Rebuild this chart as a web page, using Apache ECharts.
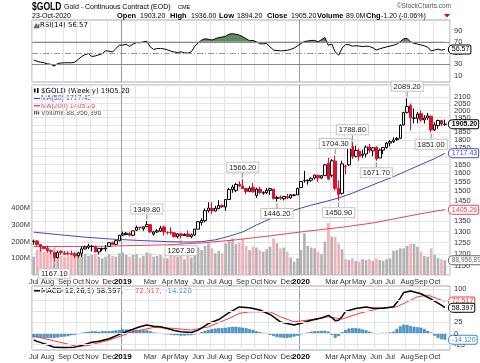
<!DOCTYPE html>
<html><head><meta charset="utf-8">
<script src="https://cdn.jsdelivr.net/npm/echarts@6/dist/echarts.min.js"></script>
<style>html,body{margin:0;padding:0;background:#fff;}#c{width:480px;height:363px;}</style>
</head><body><div id="c"></div>
<script>
// ---------- DATA ----------
const dates = [
'2018-07-06','2018-07-13','2018-07-20','2018-07-27','2018-08-03','2018-08-10','2018-08-17','2018-08-24','2018-08-31',
'2018-09-07','2018-09-14','2018-09-21','2018-09-28','2018-10-05','2018-10-12','2018-10-19','2018-10-26',
'2018-11-02','2018-11-09','2018-11-16','2018-11-23','2018-11-30','2018-12-07','2018-12-14','2018-12-21','2018-12-28',
'2019-01-04','2019-01-11','2019-01-18','2019-01-25','2019-02-01','2019-02-08','2019-02-15','2019-02-22',
'2019-03-01','2019-03-08','2019-03-15','2019-03-22','2019-03-29','2019-04-05','2019-04-12','2019-04-19','2019-04-26',
'2019-05-03','2019-05-10','2019-05-17','2019-05-24','2019-05-31','2019-06-07','2019-06-14','2019-06-21','2019-06-28',
'2019-07-05','2019-07-12','2019-07-19','2019-07-26','2019-08-02','2019-08-09','2019-08-16','2019-08-23','2019-08-30',
'2019-09-06','2019-09-13','2019-09-20','2019-09-27','2019-10-04','2019-10-11','2019-10-18','2019-10-25',
'2019-11-01','2019-11-08','2019-11-15','2019-11-22','2019-11-29','2019-12-06','2019-12-13','2019-12-20','2019-12-27',
'2020-01-03','2020-01-10','2020-01-17','2020-01-24','2020-01-31','2020-02-07','2020-02-14','2020-02-21','2020-02-28',
'2020-03-06','2020-03-13','2020-03-20','2020-03-27','2020-04-03','2020-04-10','2020-04-17','2020-04-24',
'2020-05-01','2020-05-08','2020-05-15','2020-05-22','2020-05-29','2020-06-05','2020-06-12','2020-06-19','2020-06-26',
'2020-07-03','2020-07-10','2020-07-17','2020-07-24','2020-07-31','2020-08-07','2020-08-14','2020-08-21','2020-08-28',
'2020-09-04','2020-09-11','2020-09-18','2020-09-25','2020-10-02','2020-10-09','2020-10-16','2020-10-23','2020-10-30'];

const opens = [1254,1257,1241,1231,1224,1214,1206,1184,1212,1203,1202,1202,1201,1193,1203,1222,1229,1232,1232,1209,1222,1222,1233,1249,1242,1258,
1284,1286,1291,1283,1306,1319,1313,1323,1332,1288,1298,1302,1321,1295,1297,1294,1276,1289,1281,1288,1277,1284,1311,1342,1351,1400,
1412,1398,1410,1426,1419,1457,1510,1505,1538,1529,1515,1500,1522,1478,1512,1490,1493,1505,1511,1462,1470,1461,1472,1465,1478,1481,
1520,1559,1557,1560,1573,1588,1573,1586,1658,1588,1670,1517,1489,1640,1648,1761,1699,1731,1705,1713,1756,1732,1755,1689,1737,1753,
1781,1791,1803,1812,1900,1987,2035,1946,1945,1978,1934,1948,1960,1866,1895,1930,1903.2];
const highs = [1263,1261,1243,1236,1236,1220,1207,1214,1216,1213,1212,1215,1209,1209,1233,1236,1245,1239,1236,1226,1228,1239,1252,1254,1262,1284,
1300,1298,1297,1304,1327,1322,1323,1349.8,1335,1303,1311,1326,1328,1301,1320,1295,1292,1294,1292,1304,1290,1312,1348,1362,1411,1443,
1443,1425,1453,1432,1457,1519,1535,1546,1555,1566.2,1518,1527,1545,1519,1524,1500,1518,1519,1513,1476,1478,1476,1487,1486,1485,1520,
1556,1613,1564,1576,1591,1591,1586,1653,1691,1682,1704.3,1560,1672,1650,1753,1788.8,1765,1747,1740,1766,1775,1757,1760,1746,1757,1789,
1800,1818,1820,1904,1990,2089.2,2050,2015,1990,2000,1966,1983,1964,1918,1936,1933,1936];
const lows = [1240,1236,1211,1221,1206,1200,1167.1,1183,1196,1196,1196,1195,1182,1185,1187,1219,1221,1211,1207,1198,1212,1211,1232,1239,1238,1256,
1279,1283,1277,1278,1302,1306,1302,1320,1293,1281,1293,1298,1281,1286,1285,1273,1268,1267.3,1280,1275,1269,1280,1310,1328,1343,1391,
1384,1397,1407,1413,1400,1457,1492,1496,1522,1512,1484,1495,1494,1465,1485,1482,1485,1481,1456,1446.2,1455,1452,1459,1461,1474,1480,
1519,1547,1536,1552,1565,1551,1566,1586,1562,1576,1504,1450.9,1482,1592,1642,1683,1692,1673,1688,1692,1720,1700,1671.7,1688,1712,1745,
1760,1782,1795,1806,1895,1978,1863,1911,1910,1921,1910,1935,1851,1859,1874,1891,1894.2];
const closes = [1256,1241,1231,1223,1214,1211,1184,1206,1206,1199,1201,1199,1192,1205,1222,1230,1235,1233,1209,1223,1223,1226,1249,1242,1258,1283,
1289,1292,1283,1303,1319,1318,1322,1332,1298,1298,1303,1316,1298,1295,1295,1276,1289,1281,1287,1277,1285,1311,1346,1352,1400,1413,
1400,1412,1426,1419,1457,1509,1523,1537,1529,1515,1499,1516,1497,1512,1494,1494,1505,1514,1462,1468,1463,1472,1465,1481,1481,1515,
1553,1560,1560,1571,1589,1573,1586,1648,1566,1672,1516,1484,1654,1637,1752,1698,1735,1700,1713,1756,1735,1751,1683,1737,1753,1780,
1790,1801,1810,1897,1986,2028,1949,1947,1975,1934,1947,1962,1866,1900,1930,1906,1905.2];
const volumesM = [110,150,160,140,135,130,165,125,115,110,120,125,120,
130,150,125,115,120,125,110,100,110,125,115,110,130,
135,120,110,120,125,105,115,135,130,110,115,120,105,
100,115,120,110,115,95,120,105,125,165,150,175,190,
160,130,145,130,190,210,220,185,195,215,175,150,170,
165,150,140,155,170,220,190,160,165,140,105,80,100,
150,250,175,165,160,140,125,200,312,230,228,190,155,
95,90,100,85,80,95,90,95,85,100,90,85,95,
100,146,150,160,160,175,186,186,170,140,114,110,160,120,102,94,88.957];
const rsi14 = [37.5,35.5,34,33,31,30,27,31.5,32.5,32.8,33,32.8,34,38.8,44,47.5,49,44,45,47,
49,54,53.5,52,58.5,64,64.2,65.5,62,66,68.6,68.3,70,71.2,61.2,56.5,58,58.3,57.5,55.8,
53.5,52,51,52.3,50.5,50,52.3,62,68,73,75.5,74.5,73.2,75.5,77.5,78.5,80,83.5,84.5,83.5,
82,79,75.5,72,72.5,70,66.5,66.5,67,61,55.5,54.5,54.1,54.3,55,56.5,59,63,67,70.5,
71.5,72.5,72.5,70,74,77.5,64,66,52,46.5,59,65,65,62.5,63,62.5,61.5,62.3,61.8,59.5,
55.5,57.5,59.5,61,62.5,64,66,70.5,75.5,76,69.5,67.5,66,64.5,63,60.5,54,55.5,57,55.3,56.57];
const ma50Dates = ['2018-07-06','2018-08-24','2018-10-19','2018-12-14','2019-02-08','2019-04-05','2019-05-17','2019-06-14','2019-07-12',
'2019-08-09','2019-09-06','2019-10-04','2019-11-01','2019-11-29','2019-12-27','2020-01-24','2020-02-21','2020-03-20','2020-04-17',
'2020-05-15','2020-06-12','2020-07-10','2020-08-07','2020-09-04','2020-10-02','2020-10-23'];
const ma50Vals = [1297,1286,1274,1265,1259,1254,1252,1254,1262,1278,1298,1330,1360,1385,1408,1428,1445,1465,1490,1520,1550,1580,1615,1650,1685,1717.43];
const ma200Dates = ['2018-07-06','2018-11-16','2019-04-05','2019-06-14','2019-08-23','2019-11-01','2020-01-10','2020-03-20','2020-05-29',
'2020-07-03','2020-08-07','2020-09-04','2020-10-23'];
const ma200Vals = [1232,1233,1240,1248,1262,1280,1300,1318,1340,1356,1372,1385,1405.26];
const macdDates = ['2018-07-06','2018-07-13','2018-07-27','2018-08-10','2018-08-17','2018-09-07','2018-09-28','2018-10-12','2018-11-02',
'2018-11-16','2018-12-07','2018-12-28','2019-01-18','2019-02-08','2019-02-22','2019-03-08','2019-03-22','2019-04-05','2019-04-19',
'2019-05-03','2019-05-24','2019-06-07','2019-06-28','2019-07-19','2019-08-09','2019-08-30','2019-09-20','2019-10-11','2019-11-01',
'2019-11-22','2019-12-20','2020-01-03','2020-01-24','2020-02-14','2020-02-28','2020-03-06','2020-03-13','2020-03-20','2020-03-27',
'2020-04-03','2020-04-24','2020-05-15','2020-05-29','2020-06-19','2020-07-10','2020-07-24','2020-07-31','2020-08-14','2020-09-04',
'2020-09-25','2020-10-16','2020-10-23'];
const macdVals = [-15,-18,-23,-28.5,-31.5,-32,-31,-27,-20,-17.5,-12,-2,7,15,19,16.5,15,11,6.5,3.6,2.3,7.5,22.5,31.5,47,60,58,53,43,
26,19,23,30,35,41,36,29,30,38,50,56.5,60,57,57,60.5,80,93,96,90,78,64,58.397];
const signalDates = ['2018-07-06','2018-07-27','2018-08-31','2018-10-05','2018-10-26','2018-12-07','2019-01-25','2019-03-08','2019-04-19',
'2019-05-24','2019-06-28','2019-08-09','2019-08-30','2019-09-20','2019-11-01','2019-11-22','2019-12-20','2020-01-17','2020-02-28',
'2020-03-27','2020-05-01','2020-06-12','2020-07-17','2020-08-28','2020-09-18','2020-10-23'];
const signalVals = [-6,-11.5,-20.5,-30,-27,-15,3.6,13.6,11.4,7.5,15,34,45.5,49,49,37.7,26.4,30.2,37.7,32.5,45.5,56.8,60.5,83,87,72.517];
const macdHist = [-9,-9,-10,-10,-10,-10,-10, -9,-8,-7,-6,-4,-3, -1,1,3, 4,5,5,4,5,5,5,6, 7,8,9,9,9,9, 8,8,7,7,5, 2,1,0,-1,
-2,-3,-4,-4,-5,-5,-4,-4, -2,0,3, 6,8,10,11,12,12,13, 14,15,15,14, 13,12,10,8,5, 3,1,0, -3,-6,-8,-9,-10,-10, -9,-7,-5,
-2,0,2,4,5,5,6,6, 4,-3,-10,-6, 3,8,11,12,12,11, 9,7,4,1,-1, 0,1,1,2, 4,10,16,20,19, 17,15,14,13,10,6,2, -5,-10,-13,-14.12];
const priceTicks = [1150,1200,1250,1300,1350,1400,1450,1500,1550,1600,1650,1700,1750,1800,1850,1900,1950,2000,2050,2100];
const rsiTicks = [10,30,50,70,90];
const macdTicks = [-25,0,25,50,75,100];
const volTicks = [100,200,300,400];
const annDates = ['2018-08-17','2019-02-22','2019-05-03','2019-09-06','2019-11-15','2020-03-13','2020-03-20','2020-04-17','2020-06-05','2020-08-07','2020-09-25'];
const annVals = [1167.10,1349.80,1267.30,1566.20,1446.20,1704.30,1450.90,1788.80,1671.70,2089.20,1851.00];
const annSide = ['bottom','top','bottom','top','bottom','top','bottom','top','bottom','top','bottom'];
const MON = ['Jan','Feb','Mar','Apr','May','Jun','Jul','Aug','Sep','Oct','Nov','Dec'];

// ---------- BUILD ----------
const N = closes.length;
const last = N - 1;
const monthStart = dates.map((d, i) => i === 0 || d.slice(5,7) !== dates[i-1].slice(5,7));
const FONT = '"Liberation Sans", Arial, sans-serif';
const VF = '"DejaVu Sans", Verdana, sans-serif';
const TICKFONT = '7.5px "Liberation Sans", Arial';
const L = 32, W = 418;
const gridCols = [];
for (let i = 0; i < 12; i++) gridCols.push(i === 6 ? '#9a9a9a' : '#e3e3e3');

function xAxisFor(gi, showLabel) {
  return {
    type: 'category', gridIndex: gi, data: dates, boundaryGap: true,
    axisLine: {show: false}, axisTick: {show: false},
    splitLine: {show: true, interval: (i) => !!monthStart[i], lineStyle: {color: gridCols, width: 1}},
    axisLabel: {
      show: showLabel, margin: 3, fontSize: 7.5, color: '#333', fontFamily: FONT,
      interval: (i, v) => !!monthStart[i] && v.slice(5,7) !== '02',
      formatter: (v) => { const m = +v.slice(5,7); return m === 1 ? '{y|' + v.slice(0,4) + '}' : MON[m-1]; },
      rich: {y: {fontWeight: 'bold', color: '#000', fontSize: 8, fontFamily: FONT}}
    }
  };
}
function boxLabel(text, color, bold) {
  return {show: true, formatter: () => text, color: color, fontSize: 7, fontFamily: FONT,
    fontWeight: bold ? 'bold' : 'normal', backgroundColor: '#fff', borderColor: color, borderWidth: 1,
    borderRadius: [5,1,1,5], padding: [1,1,0,3], distance: 4};
}
function txt(x, y, text, font, fill, extra) {
  return {type: 'text', x: x, y: y, style: Object.assign({text: text, font: font, fill: fill, verticalAlign: 'middle'}, extra || {})};
}

const candleData = closes.map((c, i) => [opens[i], c, lows[i], highs[i]]);
const volData = volumesM.map((v, i) => ({value: v, itemStyle: {color: closes[i] >= opens[i] ? '#b2b2b2' : '#f2b0b8'}}));

const annPoints = annDates.map((d, i) => ({
  coord: [d, annVals[i]], symbol: 'rect', symbolSize: [1, 5],
  symbolOffset: [0, annSide[i] === 'top' ? -4 : 4], itemStyle: {color: '#888'},
  label: {show: true, position: annSide[i], distance: 1, formatter: annVals[i].toFixed(2), fontSize: 7.5,
    fontFamily: FONT, color: '#222', backgroundColor: '#fff', borderColor: '#c4c4c4', borderWidth: 1, padding: [1,2,0,2]}
}));

const LF = '"Liberation Sans", Arial';
const staticGraphic = [
  {type: 'text', x: 32, y: 7, scaleX: 0.78, style: {text: '$GOLD', font: 'bold 11px ' + LF, fill: '#000', verticalAlign: 'middle'}},
  txt(64, 7, 'Gold - Continuous Contract (EOD)', '7px ' + LF, '#000'),
  txt(178, 7.5, 'CME', '5.5px ' + LF, '#000'),
  txt(451, 6, '\u00A9StockCharts.com', '6.5px ' + LF, '#555', {align: 'right'}),
  txt(32, 16, '23-Oct-2020', '7px ' + LF, '#000'),
  txt(117, 16, 'Open', 'bold 7.5px ' + LF, '#000'),
  txt(140, 16, '1903.20', '7px ' + LF, '#000'),
  txt(170, 16, 'High', 'bold 7.5px ' + LF, '#000'),
  txt(191, 16, '1936.00', '7px ' + LF, '#000'),
  txt(219, 16, 'Low', 'bold 7.5px ' + LF, '#000'),
  txt(237, 16, '1894.20', '7px ' + LF, '#000'),
  txt(267, 16, 'Close', 'bold 7.5px ' + LF, '#000'),
  txt(291, 16, '1905.20', '7px ' + LF, '#000'),
  txt(317, 16, 'Volume', 'bold 7.5px ' + LF, '#000'),
  txt(346, 16, '89.0M', '7px ' + LF, '#000'),
  txt(366, 16, 'Chg', 'bold 7.5px ' + LF, '#000'),
  txt(381, 16, '-1.20 (-0.06%)', '7px ' + LF, '#000'),
  {type: 'polygon', shape: {points: [[444,14],[450,14],[447,17.5]]}, style: {fill: '#d00020'}},
  {type: 'polygon', shape: {points: [[34,28],[36,23.5],[37.5,26],[39,24],[39,28]]}, style: {fill: '#5e8c5e', stroke: '#333', lineWidth: 0.5}},
  txt(40, 25.5, 'RSI(14) 56.57', '7px ' + VF, '#000'),
  {type: 'rect', shape: {x: 34, y: 88.5, width: 1.5, height: 4}, style: {fill: '#000'}},
  {type: 'rect', shape: {x: 37, y: 88, width: 1.5, height: 5}, style: {fill: '#000'}},
  txt(41, 90.8, '$GOLD (Weekly) 1905.20', '7px ' + VF, '#000'),
  {type: 'line', shape: {x1: 34, y1: 98.3, x2: 40, y2: 98.3}, style: {stroke: '#4848b8', lineWidth: 1.5}},
  txt(41, 98.3, 'MA(50) 1717.43', '7px ' + LF, '#4848b8'),
  {type: 'line', shape: {x1: 34, y1: 105.7, x2: 40, y2: 105.7}, style: {stroke: '#e4465e', lineWidth: 1.5}},
  txt(41, 105.7, 'MA(200) 1405.26', '7px ' + LF, '#e4465e'),
  {type: 'rect', shape: {x: 34, y: 111, width: 1.2, height: 3.5}, style: {fill: '#555'}},
  {type: 'rect', shape: {x: 36, y: 110, width: 1.2, height: 4.5}, style: {fill: '#555'}},
  {type: 'rect', shape: {x: 38, y: 111.5, width: 1.2, height: 3}, style: {fill: '#555'}},
  txt(41, 112.8, 'Volume 88,956,896', '7px ' + LF, '#555'),
  {type: 'line', shape: {x1: 34, y1: 290.8, x2: 40, y2: 290.8}, style: {stroke: '#000', lineWidth: 1.5}},
  txt(41, 290.8, 'MACD(12,26,9) 58.397,', '7px ' + VF, '#000'),
  txt(135, 290.8, '72.517,', '7px ' + VF, '#ff3838'),
  txt(165, 290.8, '-14.120', '7px ' + VF, '#3a8ac8')
];

const option = {
  animation: false,
  backgroundColor: '#fff',
  textStyle: {fontFamily: FONT},
  grid: [
    {left: L, width: W, top: 20, height: 62, show: true, borderColor: '#a8a8a8', borderWidth: 1},
    {left: L, width: W, top: 85, height: 190, show: true, borderColor: '#a8a8a8', borderWidth: 1},
    {left: L, width: W, top: 286, height: 64, show: true, borderColor: '#a8a8a8', borderWidth: 1}
  ],
  xAxis: [xAxisFor(0, false), xAxisFor(1, true), xAxisFor(2, true)],
  yAxis: [
    {type: 'value', gridIndex: 0, position: 'right', min: -1.25, max: 108.75,
     axisLine: {show: false}, axisTick: {show: false}, splitLine: {show: false}, axisLabel: {show: false}},
    {type: 'log', logBase: 10, gridIndex: 1, position: 'right', min: 1113.5, max: 2190,
     axisLine: {show: false}, axisTick: {show: false, customValues: [1114].concat(priceTicks, [2189])},
     splitLine: {show: true, lineStyle: {color: '#e3e3e3'}},
     axisLabel: {customValues: [1114].concat(priceTicks, [2189]), fontSize: 7.5, color: '#333', margin: 4,
       formatter: (v) => priceTicks.indexOf(Math.round(v)) >= 0 ? String(Math.round(v)) : ''}},
    {type: 'value', gridIndex: 1, position: 'left', min: 0, max: 1140, interval: 100,
     axisLine: {show: false}, axisTick: {show: false}, splitLine: {show: false},
     axisLabel: {fontSize: 7.5, color: '#333', margin: 2, formatter: (v) => volTicks.indexOf(v) >= 0 ? v + 'M' : ''}},
    {type: 'value', gridIndex: 2, position: 'right', min: -37.5, max: 107.5,
     axisLine: {show: false}, axisTick: {show: false}, splitLine: {show: false}, axisLabel: {show: false}}
  ],
  visualMap: [{
    type: 'piecewise', show: false, seriesIndex: 1, dimension: 1,
    pieces: [{gt: 70, color: '#5e8c5e'}, {gte: 30, lte: 70, color: 'rgba(0,0,0,0)'}, {lt: 30, color: '#d82030'}]
  }],
  series: [
    {name: 'RSI', type: 'line', xAxisIndex: 0, yAxisIndex: 0, data: rsi14, symbol: 'none', z: 4,
     lineStyle: {color: '#000', width: 1}, itemStyle: {color: '#000'},
     endLabel: boxLabel(rsi14[last].toFixed(2), '#000', false),
     markLine: {silent: true, symbol: ['none','none'], label: {show: false},
       lineStyle: {color: '#8a8a8a', width: 1, type: 'solid'},
       data: [{yAxis: 70, label: {show: false}}, {yAxis: 30, label: {show: false}},
              {yAxis: 50, label: {show: false}, lineStyle: {type: [6,2,1,2], color: '#999'}}]}},
    {name: 'RSIfill', type: 'line', xAxisIndex: 0, yAxisIndex: 0, data: rsi14, symbol: 'none', z: 3,
     lineStyle: {opacity: 0}, areaStyle: {origin: 70, opacity: 1}},
    {name: 'Volume', type: 'bar', xAxisIndex: 1, yAxisIndex: 2, data: volData, barWidth: 2.6, z: 1,
     markPoint: {symbol: 'rect', symbolSize: 0, data: [{coord: [dates[last], volumesM[last]],
       label: Object.assign(boxLabel('88,956,896', '#666', false), {position: 'right', fontSize: 6.5, padding: [1,1,0,3]})}]}},
    {name: 'MA200', type: 'line', xAxisIndex: 1, yAxisIndex: 1, symbol: 'none', z: 2,
     data: ma200Dates.map((d, i) => [d, ma200Vals[i]]), lineStyle: {color: '#e4465e', width: 1}, itemStyle: {color: '#e4465e'},
     endLabel: boxLabel(ma200Vals[ma200Vals.length-1].toFixed(2), '#e4465e', false)},
    {name: 'MA50', type: 'line', xAxisIndex: 1, yAxisIndex: 1, symbol: 'none', z: 2,
     data: ma50Dates.map((d, i) => [d, ma50Vals[i]]), lineStyle: {color: '#4848b8', width: 1}, itemStyle: {color: '#4848b8'},
     endLabel: boxLabel(ma50Vals[ma50Vals.length-1].toFixed(2), '#4848b8', false)},
    {name: 'GOLD', type: 'candlestick', xAxisIndex: 1, yAxisIndex: 1, data: candleData, barWidth: 3, z: 3,
     itemStyle: {color: '#ffffff', color0: '#e0102a', borderColor: '#000', borderColor0: '#e0102a', borderWidth: 1},
     markPoint: {data: annPoints.concat([{coord: [dates[last], closes[last]], symbol: 'rect', symbolSize: 0,
       label: Object.assign(boxLabel(closes[last].toFixed(2), '#000', true), {position: 'right'})}])}},
    {name: 'Hist', type: 'bar', xAxisIndex: 2, yAxisIndex: 3, data: macdHist, barWidth: 2.8, z: 1,
     itemStyle: {color: '#4d9fd6', borderColor: '#2a6f9f', borderWidth: 0.5},
     markLine: {silent: true, symbol: ['none','none'], label: {show: false},
       lineStyle: {color: '#e3e3e3', width: 1, type: 'solid'},
       data: macdTicks.map((v) => ({yAxis: v, label: {show: false}}))},
     markPoint: {symbol: 'rect', symbolSize: 0, data: [{coord: [dates[last], macdHist[last]],
       label: Object.assign(boxLabel(macdHist[last].toFixed(3), '#3a8ac8', false), {position: 'right'})}]}},
    {name: 'Signal', type: 'line', xAxisIndex: 2, yAxisIndex: 3, symbol: 'none', z: 2,
     data: signalDates.map((d, i) => [d, signalVals[i]]), lineStyle: {color: '#ff3838', width: 1}, itemStyle: {color: '#ff3838'},
     endLabel: boxLabel(signalVals[signalVals.length-1].toFixed(3), '#ff3838', false)},
    {name: 'MACD', type: 'line', xAxisIndex: 2, yAxisIndex: 3, symbol: 'none', z: 3,
     data: macdDates.map((d, i) => [d, macdVals[i]]), lineStyle: {color: '#000', width: 1.5}, itemStyle: {color: '#000'},
     endLabel: boxLabel(macdVals[macdVals.length-1].toFixed(3), '#000', false)}
  ],
  graphic: staticGraphic
};
const chart = echarts.init(document.getElementById('c'), null, {renderer: 'canvas'});
chart.setOption(option);
// right-hand tick labels of the RSI and MACD panels, placed through the axes' own scales;
// labels that sit under a value box (as in the original) stay at the bottom, the rest go on top
const underBox = {r50: true, m50: true, m75: true, 'm-25': true};
const tickTexts = [];
rsiTicks.forEach((v) => {
  const t = txt(454, chart.convertToPixel({yAxisIndex: 0}, v), String(v), TICKFONT, '#333');
  t.z = underBox['r' + v] ? 0 : 100; tickTexts.push(t);
});
macdTicks.forEach((v) => {
  const t = txt(454, chart.convertToPixel({yAxisIndex: 3}, v), String(v), TICKFONT, '#333');
  t.z = underBox['m' + v] ? 0 : 100; tickTexts.push(t);
});
chart.setOption({graphic: staticGraphic.concat(tickTexts)});
</script></body></html>
